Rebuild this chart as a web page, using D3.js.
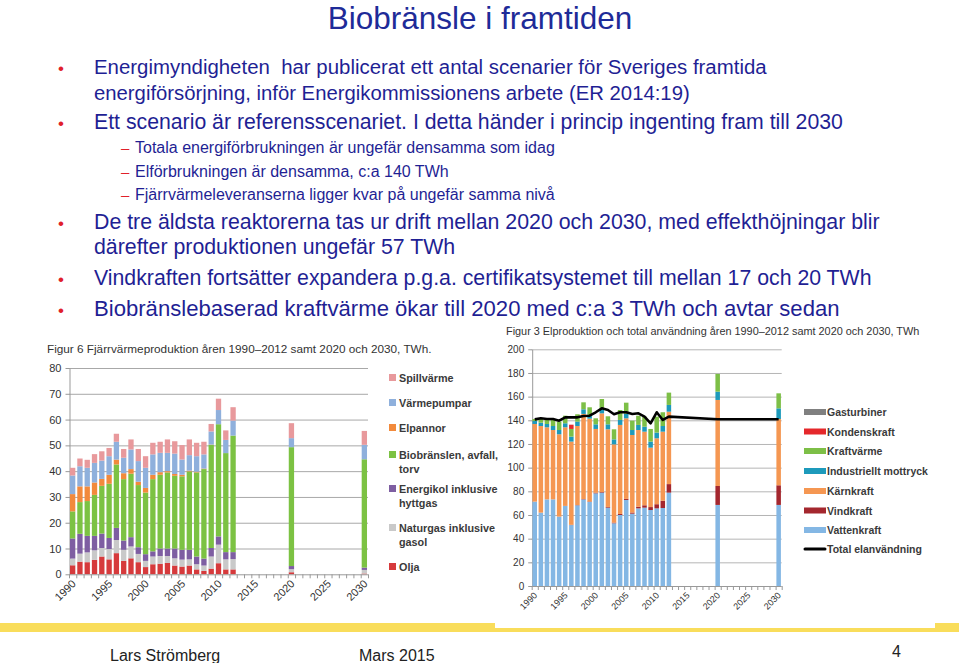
<!DOCTYPE html>
<html>
<head>
<meta charset="utf-8">
<script src="https://cdn.jsdelivr.net/npm/d3@7"></script>
<style>
  html, body { margin: 0; padding: 0; background: #fff; }
  svg { display: block; }
  text { font-family: "Liberation Sans", Arial, sans-serif; }
</style>
</head>
<body>
<svg id="slide" width="959" height="663"></svg>
<script>
// ---------------- DATA ----------------
const slideTitle = "Biobränsle i framtiden";
const bulletLines = [
  "Energimyndigheten  har publicerat ett antal scenarier för Sveriges framtida",
  "energiförsörjning, inför Energikommissionens arbete (ER 2014:19)",
  "Ett scenario är referensscenariet. I detta händer i princip ingenting fram till 2030",
  "Totala energiförbrukningen är ungefär densamma som idag",
  "Elförbrukningen är densamma, c:a 140 TWh",
  "Fjärrvärmeleveranserna ligger kvar på ungefär samma nivå",
  "De tre äldsta reaktorerna tas ur drift mellan 2020 och 2030, med effekthöjningar blir",
  "därefter produktionen ungefär 57 TWh",
  "Vindkraften fortsätter expandera p.g.a. certifikatsystemet till mellan 17 och 20 TWh",
  "Biobränslebaserad kraftvärme ökar till 2020 med c:a 3 TWh och avtar sedan"
];
const footerAuthor = "Lars Strömberg";
const footerDate = "Mars 2015";
const footerPage = "4";

const axisCategories = d3.range(1990, 2031);          // category axis 1990..2030
const axisLabelYears = [1990, 1995, 2000, 2005, 2010, 2015, 2020, 2025, 2030];
const dataYears = [1990,1991,1992,1993,1994,1995,1996,1997,1998,1999,2000,2001,2002,2003,2004,2005,2006,2007,2008,2009,2010,2011,2012,2020,2030];

// Figur 6 – Fjärrvärmeproduktion (TWh)
const leftTitle = "Figur 6 Fjärrvärmeproduktion åren 1990–2012 samt 2020 och 2030, TWh.";
const leftYTicks = [0,10,20,30,40,50,60,70,80];
const olja        = [3.5,4.9,4.7,5.6,6.9,5.8,8.2,5.2,6.2,4.7,2.8,3.9,4.1,4.4,3.4,3.0,3.4,1.9,1.3,2.2,4.3,1.9,1.9,0.8,0.3];
const naturgas    = [2.6,3.1,3.8,3.7,3.3,4.0,5.1,4.3,4.6,3.2,2.4,3.0,3.0,2.7,2.8,2.7,2.4,2.0,2.1,4.7,7.2,3.9,4.0,1.2,1.4];
const energikol   = [7.8,7.7,6.4,5.6,5.6,4.3,4.7,3.6,3.6,2.6,2.6,2.0,2.9,2.9,3.8,3.8,3.7,3.0,2.7,3.3,3.2,2.8,2.7,1.2,0.9];
const biobransle  = [10.5,12.3,13.5,15.9,18.5,21.0,24.6,23.8,24.6,24.1,23.9,28.0,28.6,29.5,28.2,28.5,30.4,32.6,34.7,40.0,43.5,38.4,45.2,46.1,42.0];
const elpannor    = [6.7,6.1,5.7,4.8,2.7,3.5,1.9,2.3,1.8,1.3,1.8,1.7,1.0,0.5,0.7,0.6,0.3,0.3,0.2,0.1,0,0,0,0,0];
const varmepumpar = [7.2,7.8,7.2,7.6,7.1,7.2,6.9,6.0,7.6,8.0,7.8,7.9,7.5,7.1,7.9,5.9,6.0,6.0,5.5,5.1,5.5,5.1,5.8,3.5,5.6];
const spillvarme  = [3.0,3.0,3.1,3.4,3.6,3.2,3.1,3.4,3.9,4.7,4.5,4.5,4.3,5.2,4.8,5.6,6.1,5.2,4.9,2.9,4.4,3.7,5.2,5.8,5.4];
const leftSeriesNames = ["Olja","Naturgas inklusive gasol","Energikol inklusive hyttgas","Biobränslen, avfall, torv","Elpannor","Värmepumpar","Spillvärme"];
const leftSeriesColors = ["#d63a3c","#c9c9c9","#7e5ea2","#7cc243","#f28a3c","#8fb0dc","#e8999c"];
const leftLegendLines = [["Spillvärme"],["Värmepumpar"],["Elpannor"],["Biobränslen, avfall,","torv"],["Energikol inklusive","hyttgas"],["Naturgas inklusive","gasol"],["Olja"]];

// Figur 3 – Elproduktion och total användning (TWh)
const rightTitle = "Figur 3 Elproduktion och total användning åren 1990–2012 samt 2020 och 2030, TWh";
const rightYTicks = [0,20,40,60,80,100,120,140,160,180,200];
const vattenkraft  = [71.3,62.0,73.2,73.2,58.6,67.6,51.5,68.2,73.2,71.0,78.3,78.9,66.2,53.0,60.0,72.7,61.1,65.6,66.2,64.2,65.6,65.9,78.9,68.5,68.5];
const vindkraft    = [0,0,0,0,0.1,0.1,0.2,0.2,0.3,0.4,0.5,0.5,0.6,0.6,0.9,0.9,1.0,1.4,2.0,2.5,3.5,6.1,7.2,16.0,16.6];
const karnkraft    = [65.6,73.2,60.9,58.6,69.5,66.4,70.3,66.8,71.9,70.0,53.9,66.5,65.6,66.1,75.2,68.1,65.5,64.8,62.2,50.2,55.7,58.4,61.2,72.7,56.0];
const industriellt = [2.5,2.8,2.8,3.4,3.6,3.4,4.2,3.7,3.9,3.1,3.9,3.7,4.2,4.2,4.2,3.7,4.2,4.3,4.2,5.1,4.8,4.8,5.7,7.0,9.0];
const kraftvarme   = [1.7,3.7,4.2,5.1,7.1,6.4,6.5,6.2,5.9,6.5,5.1,8.4,6.8,8.5,8.4,9.5,7.9,7.8,8.5,10.7,13.5,11.6,10.4,15.0,12.7];
const kondenskraft = [0,0,0,0,0,0,3.6,0,0,0,0,0,0,0,0,0,0,0,0,0,0,0,0,0,0];
const gasturbiner  = [0,0,0,0,0,0,0,0,0,0,0,0,0,0,0,0,0,0,0,0,0,0,0,0,0];
const totalElanvandning = [140.8,141.7,141.1,141.1,139.7,142.5,142.5,142.5,143.7,143.9,146.8,150.1,148.7,145.1,146.8,146.8,145.4,145.9,143.1,137.5,146.8,140.3,143.1,140.9,140.9];
const rightSeriesNames = ["Vattenkraft","Vindkraft","Kärnkraft","Industriellt mottryck","Kraftvärme","Kondenskraft","Gasturbiner"];
const rightSeriesColors = ["#84b7e4","#a4272e","#f59752","#1d9abb","#7dbf47","#e5282b","#808080"];
const rightLegendOrder = ["Gasturbiner","Kondenskraft","Kraftvärme","Industriellt mottryck","Kärnkraft","Vindkraft","Vattenkraft"];
const lineName = "Total elanvändning";

// ---------------- DRAWING ----------------
const svg = d3.select("#slide");
const textBlue = "#1f1f94";

// fit a text element to a target width by adjusting font-size
function fitWidth(sel, width) {
  const len = sel.node().getComputedTextLength();
  const fs = parseFloat(sel.attr("font-size"));
  const nfs = fs * width / len;
  sel.attr("font-size", nfs);
  return nfs;
}

// slide title
svg.append("text").attr("x", 480).attr("y", 29).attr("text-anchor", "middle")
  .attr("font-size", 31.5).attr("fill", "#1e2b98").text(slideTitle);

// bullets (right edge: target line end, or null = reuse size of reference line)
const bulletLayout = [
  {y: 74,  x: 94,  size: 20, bullet: "•", end: 767},
  {y: 100, x: 94,  size: 20, bullet: null, end: 690},
  {y: 129, x: 94,  size: 20, bullet: "•", end: 843},
  {y: 153, x: 135, size: 15, bullet: "–", end: 555},
  {y: 177, x: 135, size: 15, bullet: "–", ref: 3},
  {y: 200, x: 135, size: 15, bullet: "–", ref: 3},
  {y: 229, x: 94,  size: 20, bullet: "•", end: 880},
  {y: 254, x: 94,  size: 20, bullet: null, ref: 6},
  {y: 285, x: 94,  size: 20, bullet: "•", end: 872},
  {y: 316, x: 94,  size: 20, bullet: "•", end: 840}
];
const fittedSizes = [];
bulletLines.forEach((t, i) => {
  const L = bulletLayout[i];
  if (L.bullet === "•") {
    svg.append("text").attr("x", 58).attr("y", L.y).attr("font-size", 17).attr("fill", "#e0202a").text("•");
  } else if (L.bullet === "–") {
    svg.append("text").attr("x", 121).attr("y", L.y).attr("font-size", 15).attr("fill", "#e0202a").text("–");
  }
  const txt = svg.append("text").attr("x", L.x).attr("y", L.y).attr("font-size", L.size)
    .attr("fill", textBlue).style("white-space", "pre").text(t);
  if (L.end) {
    fittedSizes[i] = fitWidth(txt, L.end - L.x);
  } else {
    fittedSizes[i] = fittedSizes[L.ref];
    txt.attr("font-size", fittedSizes[i]);
  }
});

// footer band
svg.append("rect").attr("x", 0).attr("y", 623).attr("width", 959).attr("height", 9).attr("fill", "#f9dd5b");
svg.append("rect").attr("x", 495).attr("y", 618).attr("width", 440).attr("height", 10).attr("fill", "#ffffff");
svg.append("text").attr("x", 110).attr("y", 661).attr("font-size", 16).attr("fill", "#222").text(footerAuthor);
svg.append("text").attr("x", 359).attr("y", 661).attr("font-size", 16).attr("fill", "#222").text(footerDate);
svg.append("text").attr("x", 892).attr("y", 657).attr("font-size", 16).attr("fill", "#222").text(footerPage);

// generic stacked chart
function stackedChart(cfg) {
  const g = svg.append("g");
  const x = d3.scaleBand().domain(axisCategories).range([cfg.x0, cfg.x1])
    .paddingInner(cfg.pad).paddingOuter(cfg.pad / 2);
  const y = d3.scaleLinear().domain([0, cfg.yMax]).range([cfg.y0, cfg.y1]);

  // title
  const tt = g.append("text").attr("x", cfg.titleX).attr("y", cfg.titleY).attr("font-size", 11)
    .attr("fill", "#333").text(cfg.title);
  fitWidth(tt, cfg.titleW);

  // gridlines
  g.append("g").selectAll("line").data(cfg.yTicks.filter(d => d > 0)).join("line")
    .attr("x1", cfg.x0).attr("x2", cfg.x1).attr("y1", d => y(d) + 0.5).attr("y2", d => y(d) + 0.5)
    .attr("stroke", cfg.gridColor).attr("stroke-width", 1);

  // y axis
  const ya = g.append("g").attr("transform", `translate(${cfg.x0 + 0.5},0)`)
    .call(d3.axisLeft(y).tickValues(cfg.yTicks).tickSize(4).tickSizeOuter(0));
  ya.select(".domain").attr("stroke", "#999");
  ya.selectAll(".tick line").attr("stroke", "#999");
  ya.selectAll(".tick text").attr("font-size", cfg.tickSize).attr("fill", "#333")
    .attr("font-family", "'Liberation Sans', Arial, sans-serif").attr("x", -cfg.yLabelGap);

  // stacked bars
  const keys = cfg.series.map((s, i) => i);
  const rows = dataYears.map((yr, j) => {
    const r = {year: yr};
    cfg.series.forEach((s, i) => r[i] = s[j]);
    return r;
  });
  const stacked = d3.stack().keys(keys)(rows);
  g.append("g").selectAll("g").data(stacked).join("g")
    .attr("fill", (d, i) => cfg.colors[i])
    .selectAll("rect").data(d => d).join("rect")
    .attr("x", d => x(d.data.year))
    .attr("width", x.bandwidth())
    .attr("y", d => y(d[1]))
    .attr("height", d => Math.max(0, y(d[0]) - y(d[1])));

  // x axis line & ticks between categories
  const step = x.step();
  g.append("line").attr("x1", cfg.x0).attr("x2", cfg.x1).attr("y1", cfg.y0 + 0.5).attr("y2", cfg.y0 + 0.5)
    .attr("stroke", "#999");
  const tickPos = axisCategories.map(c => x(c) - (step - x.bandwidth()) / 2).concat([cfg.x1]);
  g.append("g").selectAll("line").data(tickPos).join("line")
    .attr("x1", d => d + 0.5).attr("x2", d => d + 0.5).attr("y1", cfg.y0).attr("y2", cfg.y0 + 4)
    .attr("stroke", "#999");
  g.append("g").selectAll("text").data(axisLabelYears).join("text")
    .attr("text-anchor", "end").attr("font-size", cfg.xLabelSize).attr("fill", "#333")
    .attr("transform", d => `translate(${x(d) + x.bandwidth() / 2 + cfg.xLabelDx},${cfg.y0 + cfg.xLabelDy}) rotate(-45)`)
    .text(d => d);

  return {x, y, g};
}

// Left chart
const left = stackedChart({
  x0: 69, x1: 368, y0: 574.3, y1: 368, yMax: 80, pad: 0.27,
  series: [olja, naturgas, energikol, biobransle, elpannor, varmepumpar, spillvarme],
  colors: leftSeriesColors, yTicks: leftYTicks, gridColor: "#a8a8a8",
  title: leftTitle, titleX: 47, titleY: 353, titleW: 385,
  tickSize: 11, yLabelGap: 8, xLabelSize: 11, xLabelDx: 4, xLabelDy: 10
});
// left legend
const leftLegY = [378, 403, 428, 455, 489, 528, 567];
leftLegendLines.forEach((lines, i) => {
  const colorIdx = leftSeriesNames.length - 1 - i;
  left.g.append("rect").attr("x", 389).attr("y", leftLegY[i] - 4).attr("width", 7).attr("height", 7)
    .attr("fill", leftSeriesColors[colorIdx]);
  lines.forEach((ln, k) => {
    left.g.append("text").attr("x", 399).attr("y", leftLegY[i] + 4 + k * 14)
      .attr("font-size", 10.8).attr("fill", "#3a3a3a").attr("font-weight", "bold").text(ln);
  });
});

// Right chart
const right = stackedChart({
  x0: 531.7, x1: 781.7, y0: 586, y1: 349.3, yMax: 200, pad: 0.26,
  series: [vattenkraft, vindkraft, karnkraft, industriellt, kraftvarme, kondenskraft, gasturbiner],
  colors: rightSeriesColors, yTicks: rightYTicks, gridColor: "#b5b5b5",
  title: rightTitle, titleX: 506, titleY: 335, titleW: 414,
  tickSize: 10, yLabelGap: 8, xLabelSize: 9, xLabelDx: 3, xLabelDy: 10
});
// total line
const lineGen = d3.line()
  .x((d, i) => right.x(dataYears[i]) + right.x.bandwidth() / 2)
  .y(d => right.y(d));
right.g.append("path").datum(totalElanvandning).attr("d", lineGen)
  .attr("fill", "none").attr("stroke", "#000").attr("stroke-width", 2.6).attr("stroke-linejoin", "round");
// right legend
const rightLegY = [412, 431.5, 451, 471, 491, 510.5, 530];
rightLegendOrder.forEach((name, i) => {
  const idx = rightSeriesNames.indexOf(name);
  right.g.append("rect").attr("x", 804).attr("y", rightLegY[i] - 3).attr("width", 22).attr("height", 6)
    .attr("fill", rightSeriesColors[idx]);
  right.g.append("text").attr("x", 827).attr("y", rightLegY[i] + 4)
    .attr("font-size", 10.5).attr("fill", "#3a3a3a").attr("font-weight", "bold").text(name);
});
right.g.append("line").attr("x1", 805).attr("x2", 825).attr("y1", 549).attr("y2", 549)
  .attr("stroke", "#000").attr("stroke-width", 3).attr("stroke-linecap", "round");
right.g.append("text").attr("x", 827).attr("y", 553)
  .attr("font-size", 10.5).attr("fill", "#3a3a3a").attr("font-weight", "bold").text(lineName);
</script>
</body>
</html>
